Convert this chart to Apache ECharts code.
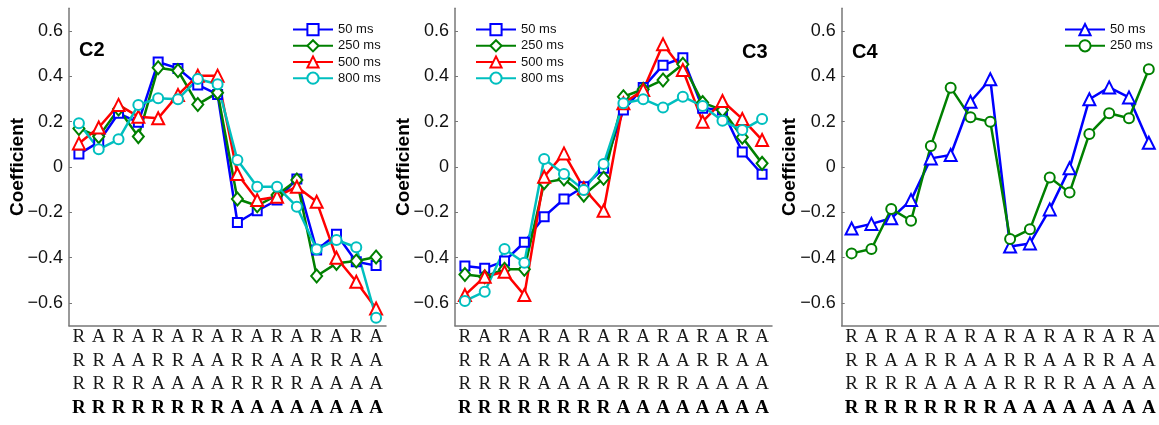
<!DOCTYPE html>
<html><head><meta charset="utf-8">
<script src="https://cdn.jsdelivr.net/npm/echarts@6/dist/echarts.min.js"></script>
<style>html,body{margin:0;padding:0;background:#fff}#c{width:1159px;height:425px}</style>
</head><body><div id="c"></div>
<script>
// Category codes: one char per label row (row1..row4)
const categories = ['RRRR','ARRR','RARR','AARR','RRAR','ARAR','RAAR','AAAR','RRRA','ARRA','RARA','AARA','RRAA','ARAA','RAAA','AAAA'];
const yTicks = [-0.6,-0.4,-0.2,0,0.2,0.4,0.6];

// Panel C2
const c2_50  = [0.057,0.11,0.237,0.197,0.463,0.435,0.362,0.32,-0.245,-0.193,-0.146,-0.053,-0.366,-0.297,-0.418,-0.435];
const c2_250 = [0.17,0.134,0.256,0.134,0.438,0.425,0.276,0.328,-0.141,-0.171,-0.124,-0.057,-0.481,-0.425,-0.415,-0.397];
const c2_500 = [0.104,0.174,0.274,0.222,0.215,0.318,0.403,0.403,-0.031,-0.146,-0.131,-0.087,-0.153,-0.4,-0.506,-0.624];
const c2_800 = [0.193,0.078,0.122,0.274,0.303,0.299,0.388,0.365,0.031,-0.087,-0.087,-0.175,-0.363,-0.322,-0.354,-0.665];
// Panel C3
const c3_50  = [-0.437,-0.447,-0.415,-0.332,-0.219,-0.141,-0.087,-0.006,0.251,0.351,0.449,0.482,0.259,0.251,0.066,-0.032];
const c3_250 = [-0.474,-0.484,-0.451,-0.451,-0.069,-0.053,-0.124,-0.05,0.31,0.343,0.384,0.453,0.284,0.251,0.131,0.016];
const c3_500 = [-0.565,-0.484,-0.462,-0.565,-0.043,0.06,-0.094,-0.193,0.281,0.34,0.541,0.428,0.2,0.291,0.212,0.119];
const c3_800 = [-0.591,-0.55,-0.362,-0.422,0.035,-0.031,-0.101,0.013,0.281,0.299,0.262,0.31,0.269,0.204,0.163,0.212];
// Panel C4
const c4_50  = [-0.271,-0.251,-0.226,-0.146,0.038,0.053,0.288,0.387,-0.351,-0.337,-0.187,-0.006,0.299,0.351,0.307,0.107];
const c4_250 = [-0.381,-0.362,-0.185,-0.237,0.093,0.35,0.219,0.2,-0.318,-0.275,-0.046,-0.113,0.146,0.237,0.215,0.431];

const BLUE='#0000ff', GREEN='#008000', RED='#ff0000', CYAN='#00bfbf';
const gridLefts=[69,455,841.7];
const GT=8.3, GH=317.4, GW=317;

function xAx(i){
  return {type:'category', gridIndex:i, data:categories, boundaryGap:true,
    axisLine:{show:true, onZero:false, lineStyle:{color:'#777', width:1.5}},
    axisTick:{show:false},
    axisLabel:{interval:0, margin:0, lineHeight:23.5,
      formatter:function(v){const c=v.split('');return '{n|'+c[0]+'}\n{n|'+c[1]+'}\n{n|'+c[2]+'}\n{b|'+c[3]+'}';},
      rich:{n:{fontFamily:'"Liberation Serif", serif', fontSize:19, color:'#1a1a1a', lineHeight:23.5},
            b:{fontFamily:'"Liberation Serif", serif', fontSize:19, fontWeight:'bold', color:'#000', lineHeight:23.5}}},
    splitLine:{show:false}};
}
function yAx(i){
  return {type:'value', gridIndex:i, min:-0.7, max:0.7,
    name:'Coefficient', nameLocation:'middle', nameGap:42, nameMoveOverlap:false,
    nameTextStyle:{fontFamily:'"Liberation Sans", Arial, sans-serif', fontSize:19, fontWeight:'bold', color:'#000'},
    axisLine:{show:true, lineStyle:{color:'#777', width:1.5}},
    axisTick:{show:true, inside:true, length:3, customValues:yTicks, lineStyle:{color:'#777'}},
    axisLabel:{customValues:yTicks, margin:6, fontFamily:'"Liberation Sans", Arial, sans-serif', fontSize:18, color:'#111',
      formatter:function(v){ if(Math.abs(v)<1e-9) return '0'; return v.toFixed(1).replace('-','\u2212'); }},
    splitLine:{show:false}};
}
function ser(name,data,i,color,symbol,size){
  return {type:'line', name:name, data:data, xAxisIndex:i, yAxisIndex:i,
    symbol:symbol, symbolSize:size, showAllSymbol:true,
    lineStyle:{color:color, width:2.5},
    itemStyle:{color:'#fff', borderColor:color, borderWidth:2},
    emphasis:{disabled:true}, animation:false, z:2};
}
const N50='50 ms', N250='250 ms', N500='500 ms', N800='800 ms';
const N50b='50 ms\u200b', N250b='250 ms\u200b';

const legendCommon={orient:'vertical', itemWidth:40, itemHeight:14, itemGap:3,
  textStyle:{fontFamily:'"Liberation Sans", Arial, sans-serif', fontSize:13, color:'#111'},
  selectedMode:false};

const option={
  backgroundColor:'#fff',
  animation:false,
  grid:gridLefts.map(l=>({left:l, top:GT, width:GW, height:GH})),
  xAxis:[xAx(0),xAx(1),xAx(2)],
  yAxis:[yAx(0),yAx(1),yAx(2)],
  legend:[
    Object.assign({left:287, top:18, data:[N50,N250,N500,N800]}, legendCommon),
    Object.assign({left:470, top:18, data:[N50,N250,N500,N800]}, legendCommon),
    Object.assign({left:1059, top:18, data:[N50b,N250b]}, legendCommon)
  ],
  graphic:[
    {type:'text', x:79, y:50, style:{text:'C2', font:'bold 20px "Liberation Sans", Arial, sans-serif', fill:'#000', verticalAlign:'middle'}},
    {type:'text', x:742, y:52, style:{text:'C3', font:'bold 20px "Liberation Sans", Arial, sans-serif', fill:'#000', verticalAlign:'middle'}},
    {type:'text', x:852, y:52, style:{text:'C4', font:'bold 20px "Liberation Sans", Arial, sans-serif', fill:'#000', verticalAlign:'middle'}}
  ],
  series:[
    ser(N50,c2_50,0,BLUE,'rect',9),
    ser(N250,c2_250,0,GREEN,'diamond',[11,13]),
    ser(N500,c2_500,0,RED,'triangle',12),
    ser(N800,c2_800,0,CYAN,'circle',10),
    ser(N50,c3_50,1,BLUE,'rect',9),
    ser(N250,c3_250,1,GREEN,'diamond',[11,13]),
    ser(N500,c3_500,1,RED,'triangle',12),
    ser(N800,c3_800,1,CYAN,'circle',10),
    ser(N50b,c4_50,2,BLUE,'triangle',12),
    ser(N250b,c4_250,2,GREEN,'circle',10)
  ]
};
const chart=echarts.init(document.getElementById('c'),null,{renderer:'canvas'});
chart.setOption(option);
</script>
</body></html>
